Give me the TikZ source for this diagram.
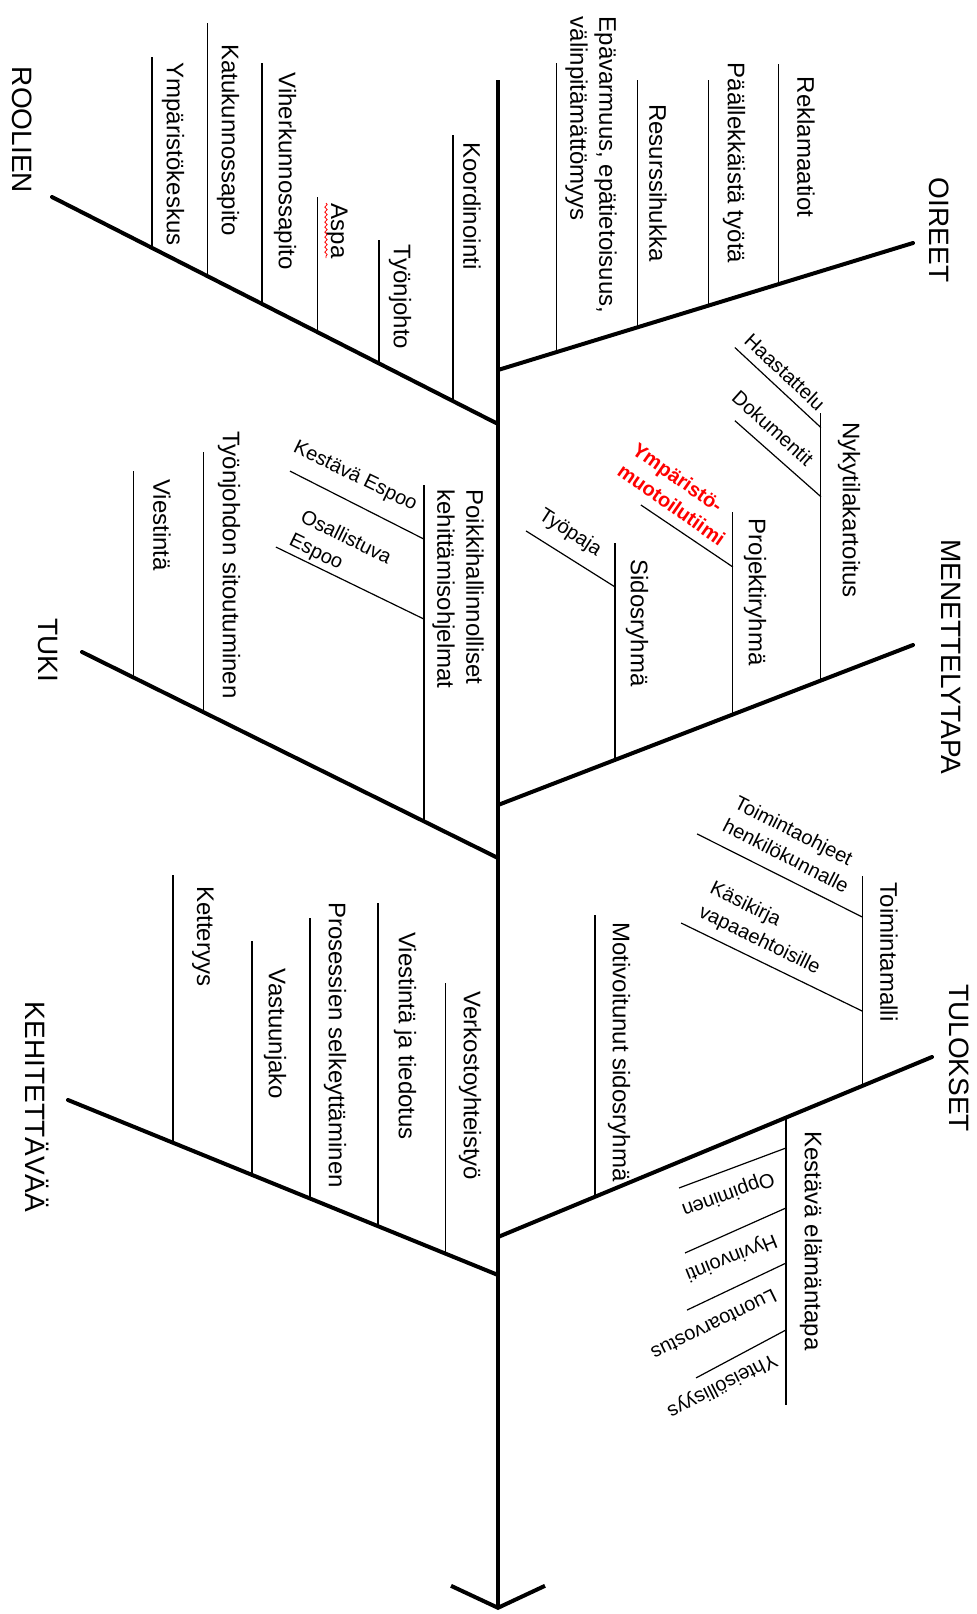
\documentclass[tikz,border=0pt]{standalone}
\usepackage{fontspec}
\setmainfont{Liberation Sans}
\usetikzlibrary{arrows.meta}
\usetikzlibrary{decorations.pathmorphing}
\tikzset{
  spine/.style = {line width=2pt},% selkaranka
  bone/.style = {line width=2pt, line cap=round},% paahaarat
  twig/.style = {line width=0.6pt},% alahaarat
  headlbl/.style = {font=\fontsize{14}{17}\selectfont, rotate=-90, inner sep=0pt},
  lbl/.style = {font=\fontsize{12}{14.5}\selectfont, rotate=-90, inner sep=0pt,
    align=left},
  sublbl/.style = {font=\fontsize{10}{13}\selectfont, inner sep=0pt, align=left},
  redlbl/.style = {sublbl, font=\fontsize{10}{13}\selectfont\bfseries, text=red}
}

\begin{document}
\begin{tikzpicture}[x=0.5pt, y=-0.5pt]
\useasboundingbox (0,0) rectangle (977,1614);

% selkaranka
\draw[spine, -{Straight Barb[length=11pt, width=47pt]}] (498,80) coordinate (top)
  -- (498,1610) coordinate (tip);

% oikea puoli
\draw[bone] (498,370) coordinate (o0) -- (913,243) coordinate (o1)
  coordinate[pos=0.675] (rekl) coordinate[pos=0.508] (paal)
  coordinate[pos=0.337] (resu) coordinate[pos=0.140] (epav);
\draw[bone] (498,805) coordinate (m0) -- (913,645) coordinate (m1)
  coordinate[pos=0.778] (nyk) coordinate[pos=0.566] (proj)
  coordinate[pos=0.282] (sid);
\draw[bone] (498,1237) coordinate (t0) -- (932,1057) coordinate (t1)
  coordinate[pos=0.839] (tmal) coordinate[pos=0.2235] (mot)
  coordinate[pos=0.6636] (kest);

% vasen puoli
\draw[bone] (52,197) coordinate (r1) -- (498,424) coordinate (r0)
  coordinate[pos=0.899] (koord) coordinate[pos=0.733] (tjoh)
  coordinate[pos=0.596] (aspa) coordinate[pos=0.471] (viher)
  coordinate[pos=0.348] (katu) coordinate[pos=0.224] (ymp);
\draw[bone] (82,652) coordinate (u1) -- (498,858) coordinate (u0)
  coordinate[pos=0.822] (poik) coordinate[pos=0.293] (sit)
  coordinate[pos=0.123] (vies);
\draw[bone] (68,1100) coordinate (k1) -- (498,1275) coordinate (k0)
  coordinate[pos=0.877] (verk) coordinate[pos=0.721] (vjt)
  coordinate[pos=0.563] (pros) coordinate[pos=0.428] (vast)
  coordinate[pos=0.244] (kett);

% alahaarat
\draw[twig] (rekl) -- ++(0,-220);
\draw[twig] (paal) -- ++(0,-225);
\draw[twig] (resu) -- ++(0,-247);
\draw[twig] (epav) -- ++(0,-289);
\draw[twig] (nyk) -- ++(0,-268) coordinate[pos=0.944] (haa) coordinate[pos=0.686] (dok);
\draw[twig] (proj) -- ++(0,-202) coordinate[pos=0.73] (ymt);
\draw[twig] (sid) -- ++(0,-217) coordinate[pos=0.797] (typ);
\draw[twig] (tmal) -- ++(0,-210) coordinate[pos=0.805] (ohj) coordinate[pos=0.357] (kas);
\draw[twig] (mot) -- ++(0,-282);
\draw[twig] (kest) -- ++(0,287) coordinate[pos=0.106] (opp) coordinate[pos=0.315] (hyv)
  coordinate[pos=0.507] (luo) coordinate[pos=0.740] (yht);
\draw[twig] (koord) -- ++(0,-266);
\draw[twig] (tjoh) -- ++(0,-123);
\draw[twig] (aspa) -- ++(0,-135);
\draw[twig] (viher) -- ++(0,-241);
\draw[twig] (katu) -- ++(0,-253);
\draw[twig] (ymp) -- ++(0,-191);
\draw[twig] (poik) -- ++(0,-336) coordinate[pos=0.840] (kesp) coordinate[pos=0.602] (oesp);
\draw[twig] (sit) -- ++(0,-260);
\draw[twig] (vies) -- ++(0,-206);
\draw[twig] (verk) -- ++(0,-270);
\draw[twig] (vjt) -- ++(0,-323);
\draw[twig] (pros) -- ++(0,-281);
\draw[twig] (vast) -- ++(0,-234);
\draw[twig] (kett) -- ++(0,-268);

\draw[twig] (haa) -- ++(-86,-80);
\draw[twig] (dok) -- ++(-86,-76);
\draw[twig] (ymt) -- ++(-92,-62);
\draw[twig] (typ) -- ++(-89,-56);
\draw[twig] (kesp) -- ++(-134,-68);
\draw[twig] (oesp) -- ++(-148,-72);
\draw[twig] (ohj) -- ++(-165,-83);
\draw[twig] (kas) -- ++(-181,-88);
\draw[twig] (opp) -- ++(-107,40);
\draw[twig] (hyv) -- ++(-101,45);
\draw[twig] (luo) -- ++(-99,47);
\draw[twig] (yht) -- ++(-90,48);

% otsikot
\node[headlbl] (oireet) at (939,230) {OIREET};
\node[headlbl] (menet) at (951,657) {MENETTELYTAPA};
\node[headlbl] (tulok) at (959,1058) {TULOKSET};
\node[headlbl] (roolien) at (22,130) {ROOLIEN};
\node[headlbl] (tuki) at (48,650) {TUKI};
\node[headlbl] (kehit) at (37,1107) {KEHITETTÄVÄÄ};

\node[lbl] (lrekl) at (806,147) {Reklamaatiot};
\node[lbl] (lpaal) at (734,163) {Päällekkäistä työtä};
\node[lbl] (lresu) at (658,183) {Resurssihukka};
\node[lbl] (lepav) at (591,165) {Epävarmuus, epätietoisuus,\\välinpitämättömyys};
\node[lbl] (lnyk) at (849,510) {Nykytilakartoitus};
\node[lbl] (lproj) at (755,592) {Projektiryhmä};
\node[lbl] (lsid) at (637,623) {Sidosryhmä};
\node[lbl] (ltmal) at (889,952) {Toimintamalli};
\node[lbl] (lmot) at (619,1052) {Motivoitunut sidosryhmä};
\node[lbl] (lkest) at (811,1241) {Kestävä elämäntapa};
\node[lbl] (lkoord) at (472,206) {Koordinointi};
\node[lbl] (ltjoh) at (400,297) {Työnjohto};
\node[lbl] (laspa) at (337,231) {Aspa};
\node[lbl] (lviher) at (285,171) {Viherkunnossapito};
\node[lbl] (lkatu) at (228,140) {Katukunnossapito};
\node[lbl] (lymp) at (173,154) {Ympäristökeskus};
\node[lbl] (lpoik) at (458,589) {Poikkihallinnolliset\\kehittämisohjelmat};
\node[lbl] (lsit) at (229,565) {Työnjohdon sitoutuminen};
\node[lbl] (lvies) at (162,525) {Viestintä};
\node[lbl] (lverk) at (470,1086) {Verkostoyhteistyö};
\node[lbl] (lvjt) at (405,1036) {Viestintä ja tiedotus};
\node[lbl] (lpros) at (335,1045) {Prosessien selkeyttäminen};
\node[lbl] (lvast) at (275,1034) {Vastuunjako};
\node[lbl] (lkett) at (203,936) {Ketteryys};

\node[sublbl, rotate=-43] (lhaa) at (785,372) {Haastattelu};
\node[sublbl, rotate=-42] (ldok) at (773,428) {Dokumentit};
\node[redlbl, rotate=-35] (lymt) at (679,494) {Ympäristö-\\muotoilutiimi};
\node[sublbl, rotate=-33] (ltyp) at (570,533) {Työpaja};
\node[sublbl, rotate=-26] (lkesp) at (355,477) {Kestävä Espoo};
\node[sublbl, rotate=-26] (loesp) at (340,550) {Osallistuva\\Espoo};
\node[sublbl, rotate=-27] (lohj) at (792,844) {Toimintaohjeet\\henkilökunnalle};
\node[sublbl, rotate=-26] (lkas) at (765,929) {Käsikirja\\vapaaehtoisille};
\node[sublbl, rotate=200] (lopp) at (728,1194) {Oppiminen};
\node[sublbl, rotate=202] (lhyv) at (731,1257) {Hyvinvointi};
\node[sublbl, rotate=206] (lluo) at (714,1325) {Luontoarvostus};
\node[sublbl, rotate=207] (lyht) at (722,1385) {Yhteisöllisyys};

% oikoluvun aaltoviiva
\draw[red, line width=0.4pt, decorate, decoration={snake, amplitude=0.6pt,
  segment length=2.5pt}] (326,203) -- (326,258);
\end{tikzpicture}
\end{document}
